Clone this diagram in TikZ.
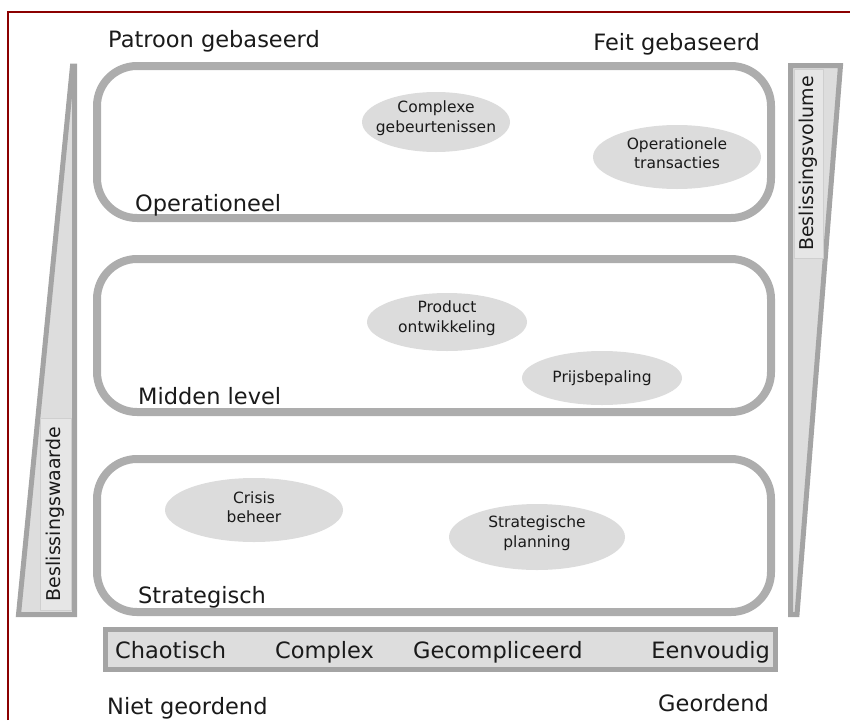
\documentclass[tikz,border=0pt]{standalone}
\usepackage{fontspec}
\setmainfont{DejaVu Sans}
\usetikzlibrary{shapes.geometric}

\definecolor{framered}{HTML}{8B0000}
\definecolor{laneline}{HTML}{ADADAD}
\definecolor{ovalfill}{HTML}{DCDCDC}
\definecolor{wedgeline}{HTML}{A4A4A4}
\definecolor{wedgefill}{HTML}{DDDDDD}
\definecolor{tagfill}{HTML}{E6E6E6}
\definecolor{tagline}{HTML}{CFCFCF}
\definecolor{ink}{HTML}{1A1A1A}

% filled oval with a centred caption: name, centre, x radius, y radius, text shift, caption
\newcommand{\ovalnote}[6]{%
  \fill[ovalfill] (#2) ellipse [x radius=#3, y radius=#4];
  \node[ovaltext] (#1) at ($(#2)+(0,#5)$) {#6};
}

\usetikzlibrary{calc}

\begin{document}
\begin{tikzpicture}[x=1pt,y=-1pt,
  bigtext/.style={inner sep=0pt, text=ink, font=\fontsize{22.5}{27}\selectfont},
  ovaltext/.style={inner sep=0pt, text=ink, align=center, font=\fontsize{15.5}{19.5}\selectfont},
  lanebox/.style={draw=laneline, line width=8pt, rounded corners=40pt,
    minimum width=674pt, minimum height=153pt, inner sep=0pt},
  wedge/.style={draw=wedgeline, fill=wedgefill, line width=5pt},
  tag/.style={draw=tagline, fill=tagfill, line width=1pt, inner sep=0pt, text=ink,
    font=\fontsize{19}{23}\selectfont},
  barbox/.style={draw=wedgeline, fill=wedgefill, line width=5pt, inner sep=0pt}]

\useasboundingbox (0,0) rectangle (850,720);

% page frame
\draw[framered, line width=2pt] (8,720) -- (8,12) -- (850,12);

% top headings
\node[bigtext, anchor=base west] (pat) at (108,47) {Patroon gebaseerd};
\node[bigtext, anchor=base east] (feit) at (760,50) {Feit gebaseerd};

% the three decision levels
\node[lanebox, minimum height=152pt] (op) at (434,142) {};
\node[lanebox] (mid) at (434,335.5) {};
\node[lanebox] (str) at (434,535.5) {};

\node[bigtext, anchor=base west] (opl) at (135,211) {Operationeel};
\node[bigtext, anchor=base west] (midl) at (138,404) {Midden level};
\node[bigtext, anchor=base west] (strl) at (138,603) {Strategisch};

% decision types
\ovalnote{cg}{436,122}{74}{30}{-4}{Complexe\\gebeurtenissen}
\ovalnote{ot}{677,157}{84}{32}{-4}{Operationele\\transacties}
\ovalnote{po}{447,322}{80}{29}{-4}{Product\\ontwikkeling}
\ovalnote{pb}{602,378}{80}{27}{0}{Prijsbepaling}
\ovalnote{cb}{254,510}{89}{32}{-3}{Crisis\\beheer}
\ovalnote{sp}{537,537}{88}{33}{-4}{Strategische\\planning}

% decision value wedge (left)
\draw[wedge] (72.5,66) -- (74.5,66) -- (74.5,614.5) -- (18.5,614.5) -- cycle;
\node[tag, rotate=90, minimum width=192pt, minimum height=31pt] (bw) at (55.5,514) {Beslissingswaarde};

% decision volume wedge (right)
\draw[wedge] (790.5,65.5) -- (840.5,65.5) -- (797,614.5) -- (790.5,614.5) -- cycle;
\node[tag, rotate=90, minimum width=189pt, minimum height=29pt] (bv) at (808.5,163.5) {Beslissingsvolume};

% context bar
\node[barbox, minimum width=670pt, minimum height=40pt] (bar) at (440.5,649.5) {};
\node[bigtext, anchor=base west] (cha) at (115,658) {Chaotisch};
\node[bigtext, anchor=base west] (cpx) at (275,658) {Complex};
\node[bigtext, anchor=base west] (gec) at (413,658) {Gecompliceerd};
\node[bigtext, anchor=base east] (een) at (770,658) {Eenvoudig};

% bottom headings
\node[bigtext, anchor=base west] (niet) at (107,714) {Niet geordend};
\node[bigtext, anchor=base east] (geo) at (769,711) {Geordend};
\end{tikzpicture}
\end{document}
